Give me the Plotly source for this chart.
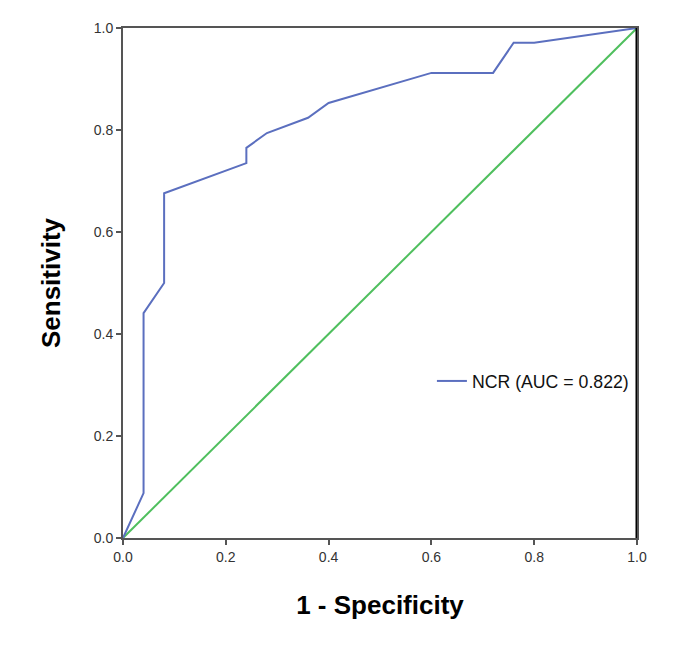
import plotly.graph_objects as go

fpr = [0.0, 0.04, 0.04, 0.08, 0.08, 0.24, 0.24, 0.28, 0.36, 0.40, 0.60, 0.72, 0.76, 0.80, 1.0]
tpr = [0.0, 0.088, 0.441, 0.500, 0.676, 0.735, 0.765, 0.794, 0.824, 0.853, 0.912, 0.912, 0.971, 0.971, 1.0]
ref_x = [0.0, 1.0]
ref_y = [0.0, 1.0]
tick_vals = [0.0, 0.2, 0.4, 0.6, 0.8, 1.0]
tick_text = ["0.0", "0.2", "0.4", "0.6", "0.8", "1.0"]

fig = go.Figure()
fig.add_trace(go.Scatter(x=ref_x, y=ref_y, mode="lines",
                         line=dict(color="#4fbf5e", width=2), showlegend=False, hoverinfo="skip"))
fig.add_trace(go.Scatter(x=fpr, y=tpr, mode="lines", name="NCR (AUC = 0.822)",
                         line=dict(color="#5b6fbf", width=2)))

axis_common = dict(range=[0, 1], tickvals=tick_vals, ticktext=tick_text,
                   showgrid=False, zeroline=False, showline=True, linecolor="#555555",
                   linewidth=2, ticks="outside", ticklen=5, tickwidth=2, tickcolor="#555555",
                   tickfont=dict(family="Liberation Sans, Arial", size=14, color="#333333"),
                   mirror=True)

fig.update_layout(
    width=685, height=646,
    margin=dict(l=115, r=56, t=16, b=116),
    paper_bgcolor="white", plot_bgcolor="white",
    xaxis=dict(**axis_common, title=dict(text="<b>1 - Specificity</b>", standoff=32,
               font=dict(family="Liberation Sans, Arial", size=26, color="#000"))),
    yaxis=dict(**axis_common, title=dict(text="<b>Sensitivity</b>", standoff=26,
               font=dict(family="Liberation Sans, Arial", size=26, color="#000"))),
    legend=dict(x=0.601, y=0.307, xanchor="left", yanchor="middle",
                bgcolor="rgba(0,0,0,0)", font=dict(family="Liberation Sans, Arial", size=17.7, color="#111")),
    shapes=[dict(type="line", xref="x", yref="y", x0=1, x1=1, y0=0, y1=1,
                 line=dict(color="black", width=3))],
)

fig.write_html("out.html")
